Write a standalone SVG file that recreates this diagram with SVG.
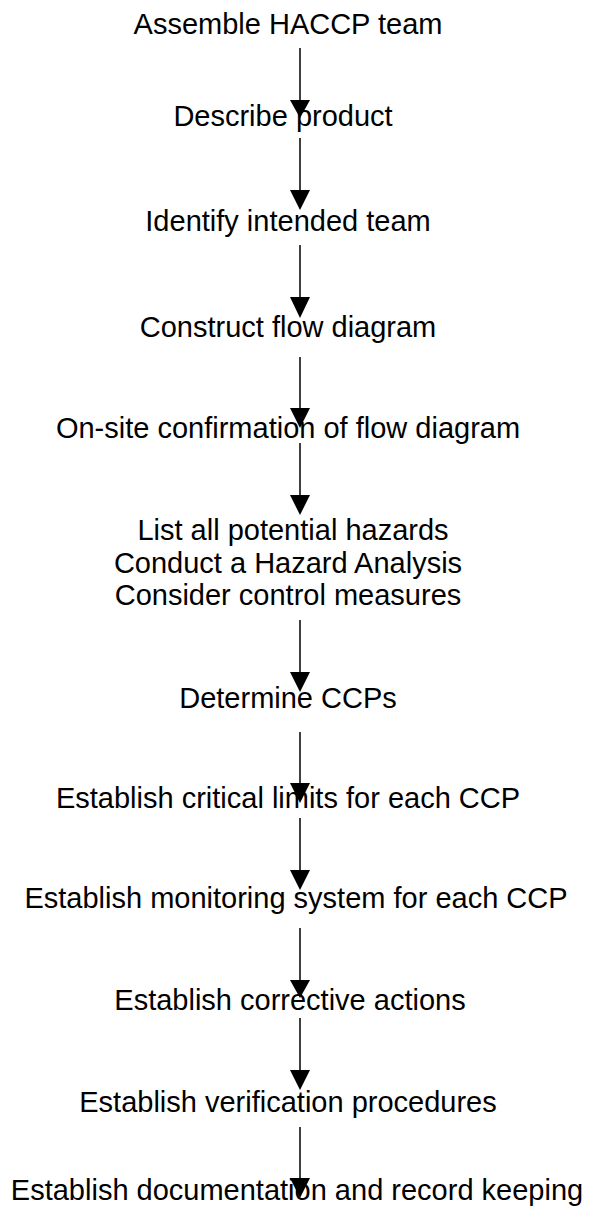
<svg xmlns="http://www.w3.org/2000/svg" width="594" height="1218" viewBox="0 0 594 1218">
<style>
text{font-family:"Liberation Sans",Arial,sans-serif;font-size:29px;fill:#000;text-anchor:middle}
#connectors line{stroke:#000;stroke-width:1.5}
#connectors path{fill:#000;stroke:none}
</style>
<rect width="594" height="1218" fill="#fff"/>
<g id="n1"><text x="288" y="34">Assemble HACCP team</text></g>
<g id="n2"><text x="283" y="126">Describe product</text></g>
<g id="n3"><text x="288" y="231">Identify intended team</text></g>
<g id="n4"><text x="288" y="337">Construct flow diagram</text></g>
<g id="n5"><text x="288" y="438">On-site confirmation of flow diagram</text></g>
<g id="n6"><text x="293" y="540">List all potential hazards</text><text x="288" y="572.5">Conduct a Hazard Analysis</text><text x="288" y="605">Consider control measures</text></g>
<g id="n7"><text x="288" y="708">Determine CCPs</text></g>
<g id="n8"><text x="288" y="808">Establish critical limits for each CCP</text></g>
<g id="n9"><text x="296" y="908">Establish monitoring system for each CCP</text></g>
<g id="n10"><text x="290" y="1010">Establish corrective actions</text></g>
<g id="n11"><text x="288" y="1112">Establish verification procedures</text></g>
<g id="n12"><text x="297" y="1200">Establish documentation and record keeping</text></g>
<g id="connectors">
<line x1="300" y1="48" x2="300" y2="102"/><path d="M290,100 L310,100 L300,118 Z"/>
<line x1="300" y1="138" x2="300" y2="192"/><path d="M290,190 L310,190 L300,210 Z"/>
<line x1="300" y1="245" x2="300" y2="299"/><path d="M290,297 L310,297 L300,318 Z"/>
<line x1="300" y1="357" x2="300" y2="410"/><path d="M290,408 L310,408 L300,428 Z"/>
<line x1="300" y1="443" x2="300" y2="497"/><path d="M290,495 L310,495 L300,515 Z"/>
<line x1="300" y1="620" x2="300" y2="674"/><path d="M290,672 L310,672 L300,692 Z"/>
<line x1="300" y1="732" x2="300" y2="785"/><path d="M290,783 L310,783 L300,803 Z"/>
<line x1="300" y1="818" x2="300" y2="872"/><path d="M290,870 L310,870 L300,890 Z"/>
<line x1="300" y1="928" x2="300" y2="982"/><path d="M290,980 L310,980 L300,998 Z"/>
<line x1="300" y1="1018" x2="300" y2="1072"/><path d="M290,1070 L310,1070 L300,1090 Z"/>
<line x1="300" y1="1127" x2="300" y2="1180"/><path d="M290,1178 L310,1178 L300,1198 Z"/>
</g>
</svg>
